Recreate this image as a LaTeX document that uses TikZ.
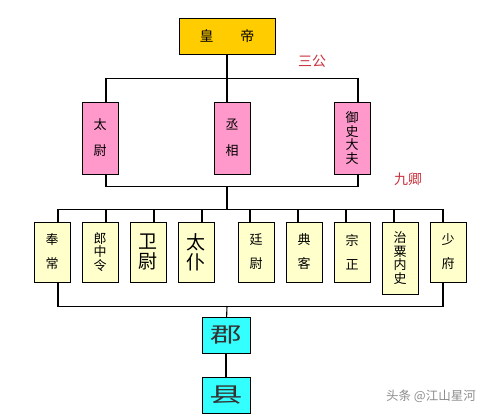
\documentclass[tikz,border=0pt]{standalone}
\usepackage{fontspec}
\usepackage{graphicx}
\newfontfamily\cjk{Noto Sans CJK SC}
\usetikzlibrary{positioning}
\definecolor{gold}{RGB}{255,204,0}
\definecolor{pinkbox}{RGB}{255,153,204}
\definecolor{ylwbox}{RGB}{255,255,204}
\definecolor{cyanbox}{RGB}{51,255,255}
\definecolor{redlabel}{RGB}{200,50,60}
\tikzstyle{emperor} = [rectangle, draw, fill=gold, minimum width=96pt,
    minimum height=36pt, font=\cjk\fontsize{14}{14}\selectfont]
\tikzstyle{gong} = [rectangle, draw, fill=pinkbox, minimum width=36pt,
    minimum height=72pt, align=center, inner sep=0pt,
    font=\cjk\fontsize{13}{26}\selectfont]
\tikzstyle{qing} = [rectangle, draw, fill=ylwbox, minimum width=36pt,
    minimum height=60pt, align=center, inner sep=0pt,
    font=\cjk\fontsize{13}{24}\selectfont]
\tikzstyle{tight} = [font=\cjk\fontsize{13}{13.5}\selectfont]
\tikzstyle{big} = [font=\cjk\fontsize{19}{20}\selectfont]
\tikzstyle{prefecture} = [rectangle, draw, fill=cyanbox, minimum width=48pt,
    minimum height=36pt, text=black!80, font=\cjk\fontsize{21}{21}\selectfont]
\tikzstyle{title} = [text=redlabel, font=\cjk\fontsize{14}{14}\selectfont]
\tikzstyle{line} = [draw, black, line width=1.1pt]

\begin{document}
\begin{tikzpicture}[x=1pt, y=-1pt, node distance = 48pt, auto]
    \useasboundingbox (0,0) rectangle (487,415);
    % Place nodes
    \node [emperor] (huangdi) at (227,36) {皇\hspace{1.9em}帝};
    \node [gong, below of=huangdi, node distance=102pt, xshift=5pt]
    (chengxiang) {丞\\相};
    \node [gong, left of=chengxiang, node distance=132pt] (taiwei)
    {太\\尉};
    \node [gong, tight, right of=chengxiang, node distance=120pt] (yushi)
    {御\\史\\大\\夫};
    \node [title] (sangong) at (312,61) {三公};
    \node [title] (jiuqing) at (408,179) {九卿};
    \node [qing] (fengchang) at (52,252) {奉\\常};
    \node [qing, tight, right of=fengchang] (langzhong) {郎\\中\\令};
    \node [qing, big, right of=langzhong] (weiwei) {卫\\尉};
    \node [qing, big, right of=weiwei] (taipu) {太\\仆};
    \node [qing, right of=taipu, node distance=60pt] (tingwei) {廷\\尉};
    \node [qing, right of=tingwei] (dianke) {典\\客};
    \node [qing, right of=dianke] (zongzheng) {宗\\正};
    \node [qing, tight, minimum height=72pt, right of=zongzheng,
    yshift=-6pt] (zhisu) {治\\粟\\内\\史};
    \node [qing, right of=zongzheng, node distance=96pt] (shaofu)
    {少\\府};
    \node [prefecture] (jun) at (226,335) {\scalebox{1.5}[1]{郡}};
    \node [prefecture, below of=jun, node distance=60pt] (xian)
    {\scalebox{1.6}[1]{县}};
    \node [text=black!45, font=\cjk\fontsize{12.5}{12.5}\selectfont]
    (toutiao) at (431,396) {头条 @江山星河};
    \coordinate (gongbar) at (227,186);
    \coordinate (qingbar) at (227,210);
    \coordinate (junbar) at (227,306);
    % Draw edges
    \draw [line] (huangdi.south) -- ([xshift=-5pt]chengxiang.north);
    \draw [line] ([xshift=6pt]taiwei.north) -- ++(0,-23)
    -| ([xshift=6pt]yushi.north);
    \draw [line] ([xshift=6pt]taiwei.south) -- ++(0,12)
    -| ([xshift=6pt]yushi.south);
    \draw [line] (gongbar) -- (qingbar);
    \draw [line] ([xshift=6pt]fengchang.north) -- ++(0,-12)
    -| ([xshift=-5pt]shaofu.north);
    \foreach \n/\s in {langzhong/6,weiwei/6,taipu/6,tingwei/-6,dianke/-6,
    zongzheng/-6,zhisu/-6}
    \draw [line] ([xshift=\s pt]\n.north) -- ([xshift=\s pt]\n.north |- qingbar);
    \draw [line] ([xshift=6pt]fengchang.south) -- ++(0,24)
    -| ([xshift=-5pt]shaofu.south);
    \draw [line] (junbar) -- (jun);
    \draw [line] (jun) -- (xian);
\end{tikzpicture}
\end{document}
